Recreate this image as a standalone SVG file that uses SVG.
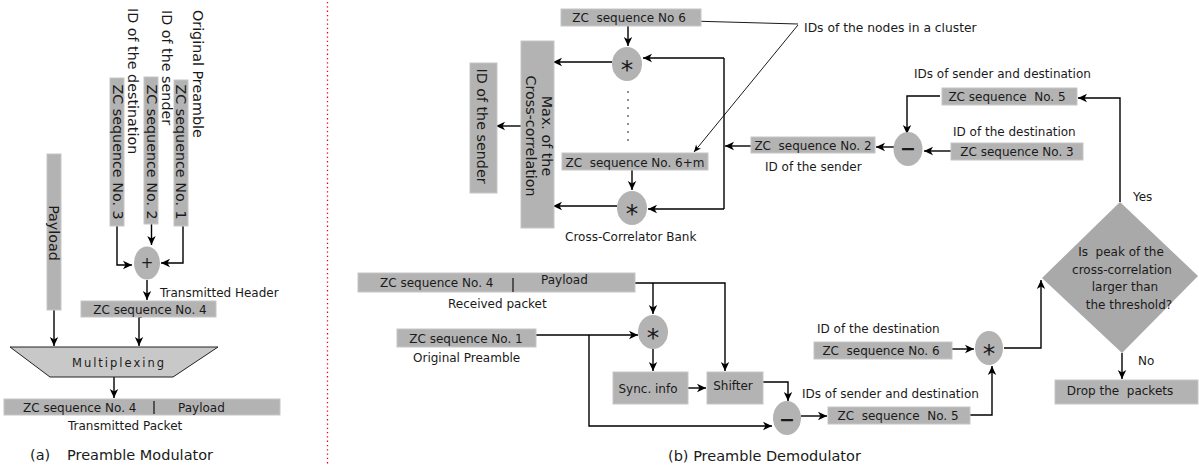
<svg xmlns="http://www.w3.org/2000/svg" width="1199" height="466" viewBox="0 0 1199 466" xml:space="preserve">
<style>
.t{font-family:"DejaVu Sans",sans-serif;font-size:12px;fill:#1a1a1a;white-space:pre}
.r{font-size:14.3px}
.cap{font-size:14.5px}
.bx{fill:#b3b3b3;stroke:#c6c6c6;stroke-width:1}
.cc{fill:#b3b3b3}
.ln{fill:none;stroke:#000;stroke-width:1.4;marker-end:url(#a)}
.th{fill:none;stroke:#000;stroke-width:0.9;marker-end:url(#s)}
.pl{fill:none;stroke:#000;stroke-width:1.4}
.sep{stroke:#111;stroke-width:1.2}
.ast{font-family:"DejaVu Sans",sans-serif;font-size:25px;fill:#1a1a1a;text-anchor:middle}
.op{font-family:"DejaVu Sans",sans-serif;font-size:19px;font-weight:bold;fill:#1a1a1a;text-anchor:middle}
.m{text-anchor:middle}
</style>
<defs>
<marker id="a" viewBox="-10 -5 11 10" refX="0" refY="0" markerWidth="11" markerHeight="10" markerUnits="userSpaceOnUse" orient="auto"><path d="M0,0 L-9,-4.2 L-6.5,0 L-9,4.2 Z" fill="#000"/></marker>
<marker id="s" viewBox="-10 -5 11 10" refX="0" refY="0" markerWidth="9" markerHeight="8" markerUnits="userSpaceOnUse" orient="auto"><path d="M0,0 L-9,-4 L-6.5,0 L-9,4 Z" fill="#000"/></marker>
</defs>
<rect width="1199" height="466" fill="#fff"/>

<!-- separator -->
<line x1="327.5" y1="2" x2="327.5" y2="464" stroke="#e00" stroke-width="1.3" stroke-dasharray="1.3 3"/>

<g id="connectors">
<path class="ln" d="M117,226 V265 H132"/>
<path class="ln" d="M151.5,224 V245"/>
<path class="ln" d="M183,226 V263 H161"/>
<path class="ln" d="M147,280 V300"/>
<path class="ln" d="M54,310 V346"/>
<path class="ln" d="M142,317 H139 V346"/>
<path class="ln" d="M114,377 V398"/>
<path class="ln" d="M628,26 V46"/>
<path class="ln" d="M612,62 H553"/>
<path class="ln" d="M632,170 V190"/>
<path class="ln" d="M617,206 H553"/>
<path class="pl" d="M724,58 V209"/>
<path class="ln" d="M724,58 H643"/>
<path class="ln" d="M724,209 H648"/>
<path class="ln" d="M751,146 H725"/>
<path class="ln" d="M521,126 H496"/>
<path class="th" d="M798,24 L690,21"/>
<path class="th" d="M798,25 L694,152"/>
<path class="ln" d="M894,147 H876"/>
<path class="ln" d="M951,151 H924"/>
<path class="ln" d="M940,96 H907 V134"/>
<path class="ln" d="M1120,202 V98 H1078"/>
<path class="ln" d="M1122,353 V379"/>
<path class="ln" d="M952,349 H974"/>
<path class="ln" d="M1004,348 H1041 V280"/>
<path class="ln" d="M970,415 H992 V366"/>
<path class="ln" d="M801,416 H827"/>
<path class="ln" d="M635,283 H725 V371"/>
<path class="ln" d="M653,283 V314"/>
<path class="ln" d="M536,335 H638"/>
<path class="ln" d="M589,335 V426 H772"/>
<path class="ln" d="M653,349 V371"/>
<path class="ln" d="M688,388 H706"/>
<path class="ln" d="M763,382 H788 V401"/>
</g>

<!-- (a) Preamble Modulator -->
<g id="lbl-dest-a"><text class="t r" transform="translate(128,8) rotate(90)">ID of the destination</text></g>
<g id="lbl-sender-a"><text class="t r" transform="translate(161.5,10) rotate(90)">ID of the sender</text></g>
<g id="lbl-orig-a"><text class="t r" transform="translate(193,10) rotate(90)">Original Preamble</text></g>
<g id="zc3-a"><rect class="bx" x="110" y="78" width="14" height="148"/><text class="t r m" transform="translate(112.5,152) rotate(90)">ZC sequence No. 3</text></g>
<g id="zc2-a"><rect class="bx" x="144" y="77" width="14" height="147"/><text class="t r m" transform="translate(146.5,152) rotate(90)">ZC sequence No. 2</text></g>
<g id="zc1-a"><rect class="bx" x="174" y="80" width="14" height="146"/><text class="t r m" transform="translate(176,152) rotate(90)">ZC sequence No. 1</text></g>
<g id="payload-a"><rect class="bx" x="47" y="154" width="14" height="156"/><text class="t r m" transform="translate(49,233) rotate(90)">Payload</text></g>
<g id="plus-a"><ellipse class="cc" cx="147" cy="263" rx="13" ry="16.5"/><text class="op" x="147" y="268" style="font-size:15px;font-weight:normal">+</text></g>
<g id="lbl-header"><text class="t" x="160" y="297">Transmitted Header</text></g>
<g id="zc4-a"><rect class="bx" x="81" y="301" width="135" height="16"/><text class="t m" x="150" y="314">ZC sequence No. 4</text></g>
<g id="mux"><polygon points="10,347 218,347 173,377 50,377" fill="#c8c8c8" stroke="#222" stroke-width="1"/><text class="t m" x="119" y="367" style="font-size:11.5px;letter-spacing:2px">Multiplexing</text></g>
<g id="packet-a"><rect class="bx" x="4" y="399" width="276" height="16"/><text class="t" y="412"><tspan x="23">ZC sequence No. 4</tspan><tspan x="178">Payload</tspan></text><line class="sep" x1="154" y1="401" x2="154" y2="414"/></g>
<g id="lbl-packet"><text class="t" x="68" y="430">Transmitted Packet</text></g>
<g id="cap-a"><text class="t cap" y="460"><tspan x="30">(a)</tspan><tspan x="67">Preamble Modulator</tspan></text></g>

<!-- (b) Preamble Demodulator -->
<g id="zc6-top"><rect class="bx" x="561" y="9" width="140" height="17"/><text class="t m" x="629" y="22">ZC  sequence No 6</text></g>
<g id="lbl-cluster"><text class="t" x="804" y="32" style="font-size:12.3px">IDs of the nodes in a cluster</text></g>
<g id="corr1"><ellipse class="cc" cx="627" cy="64" rx="15" ry="17"/><text class="ast" x="627" y="78">*</text></g>
<g id="dots"><circle cx="628" cy="92" r="0.8"/><circle cx="628" cy="100" r="0.8"/><circle cx="628" cy="108" r="0.8"/><circle cx="628" cy="116" r="0.8"/><circle cx="628" cy="124" r="0.8"/><circle cx="628" cy="132" r="0.8"/><circle cx="628" cy="140" r="0.8"/></g>
<g id="zc6m"><rect class="bx" x="562" y="153" width="146" height="17"/><text class="t m" x="635" y="167">ZC  sequence No. 6+m</text></g>
<g id="corr2"><ellipse class="cc" cx="632" cy="208" rx="15" ry="17"/><text class="ast" x="632" y="222">*</text></g>
<g id="lbl-bank"><text class="t" x="565" y="241">Cross-Correlator Bank</text></g>
<g id="maxbox"><rect class="bx" x="521" y="41" width="33" height="187"/><text class="t r m" transform="translate(541.5,136) rotate(90)">Max. of the</text><text class="t r m" transform="translate(525.5,136) rotate(90)">Cross-correlation</text></g>
<g id="sender-out"><rect class="bx" x="470" y="63" width="27" height="130"/><text class="t r m" transform="translate(476.5,126) rotate(90)">ID of the sender</text></g>
<g id="zc2-b"><rect class="bx" x="751" y="137" width="124" height="16"/><text class="t m" x="813" y="150">ZC  sequence No. 2</text></g>
<g id="lbl-sender-b"><text class="t" x="765" y="171">ID of the sender</text></g>
<g id="minus1"><ellipse class="cc" cx="908" cy="149" rx="14.5" ry="17"/><text class="op" x="908" y="155">−</text></g>
<g id="lbl-dest-b1"><text class="t" x="953" y="136">ID of the destination</text></g>
<g id="zc3-b"><rect class="bx" x="951" y="143" width="132" height="17"/><text class="t m" x="1017" y="156">ZC sequence No. 3</text></g>
<g id="lbl-sd-top"><text class="t" x="914" y="78">IDs of sender and destination</text></g>
<g id="zc5-top"><rect class="bx" x="942" y="88" width="135" height="17"/><text class="t m" x="1007" y="101">ZC sequence  No. 5</text></g>
<g id="decision"><polygon points="1120,202 1198,276 1122,353 1042,278" fill="#a9a9a9"/><text class="t m" y="256"><tspan x="1121">Is  peak of the</tspan><tspan x="1122" y="273.5">cross-correlation</tspan><tspan x="1125" y="291">larger than</tspan><tspan x="1129" y="308.5">the threshold?</tspan></text></g>
<g id="lbl-yes"><text class="t" x="1133" y="201">Yes</text></g>
<g id="lbl-no"><text class="t" x="1138" y="365">No</text></g>
<g id="drop"><rect class="bx" x="1055" y="380" width="143" height="24"/><text class="t m" x="1120" y="395">Drop the  packets</text></g>
<g id="received"><rect class="bx" x="358" y="273" width="277" height="19"/><text class="t"><tspan x="380" y="287">ZC sequence No. 4</tspan><tspan x="541" y="284">Payload</tspan></text><line class="sep" x1="513" y1="278" x2="513" y2="292"/></g>
<g id="lbl-received"><text class="t" x="448" y="308">Received packet</text></g>
<g id="zc1-b"><rect class="bx" x="397" y="329" width="139" height="18"/><text class="t m" x="466" y="343">ZC sequence No. 1</text></g>
<g id="lbl-orig-b"><text class="t" x="413" y="362">Original Preamble</text></g>
<g id="sync-corr"><ellipse class="cc" cx="653" cy="332" rx="15" ry="17"/><text class="ast" x="653" y="346">*</text></g>
<g id="sync"><rect class="bx" x="613" y="372" width="75" height="32"/><text class="t m" x="648" y="393">Sync. info</text></g>
<g id="shifter"><rect class="bx" x="707" y="372" width="56" height="32"/><text class="t m" x="733" y="390">Shifter</text></g>
<g id="minus2"><ellipse class="cc" cx="787" cy="418" rx="14" ry="17"/><text class="op" x="787" y="426">−</text></g>
<g id="lbl-dest-b2"><text class="t" x="817" y="333">ID of the destination</text></g>
<g id="zc6-bot"><rect class="bx" x="814" y="342" width="138" height="17"/><text class="t m" x="881" y="355">ZC  sequence No. 6</text></g>
<g id="final-corr"><ellipse class="cc" cx="989" cy="348" rx="14" ry="17"/><text class="ast" x="989" y="362">*</text></g>
<g id="lbl-sd-bot"><text class="t" x="802" y="398">IDs of sender and destination</text></g>
<g id="zc5-bot"><rect class="bx" x="828" y="407" width="142" height="17"/><text class="t m" x="898" y="420">ZC  sequence  No. 5</text></g>
<g id="cap-b"><text class="t cap" x="668" y="461">(b) Preamble Demodulator</text></g>
</svg>
